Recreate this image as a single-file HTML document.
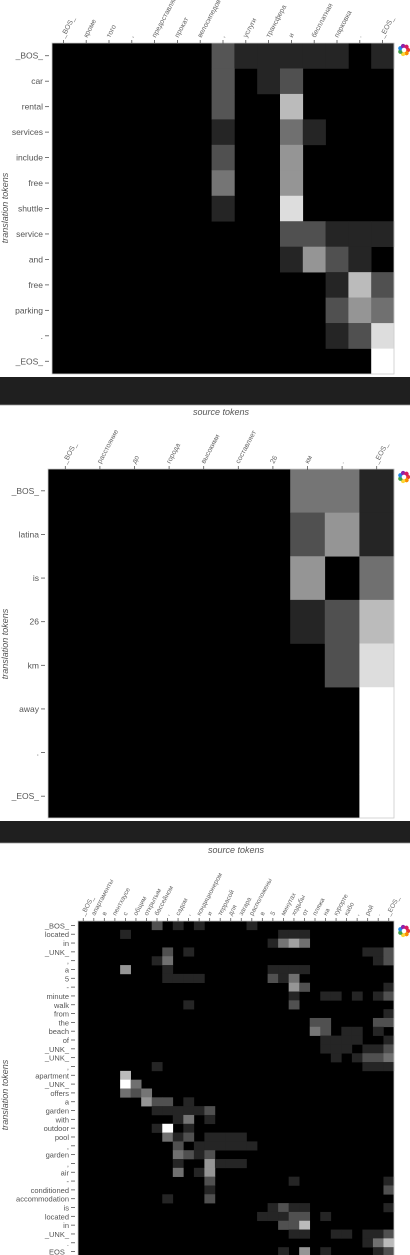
<!DOCTYPE html>
<html><head><meta charset="utf-8">
<style>
html,body{margin:0;padding:0;background:#fff;width:410px;height:1255px;overflow:hidden}
svg text{font-family:"Liberation Sans","DejaVu Sans",sans-serif}
</style></head>
<body>
<svg id="root" width="410" height="1255" xmlns="http://www.w3.org/2000/svg"></svg>
<script>
// ---------- Chart 1 data ----------
const src1 = ["_BOS_","кроме","того",",","предоставляется","прокат","велосипедов",",","услуги","трансфера","и","бесплатная","парковка",".","_EOS_"];
const tgt1 = ["_BOS_","car","rental","services","include","free","shuttle","service","and","free","parking",".","_EOS_"];
const cells1 = [
[0,7,0x55],[0,8,0x25],[0,9,0x25],[0,10,0x25],[0,11,0x25],[0,12,0x25],[0,14,0x25],
[1,7,0x55],[1,9,0x25],[1,10,0x50],
[2,7,0x55],[2,10,0xbb],
[3,7,0x25],[3,10,0x70],[3,11,0x25],
[4,7,0x50],[4,10,0x95],
[5,7,0x75],[5,10,0x95],
[6,7,0x25],[6,10,0xdd],
[7,10,0x50],[7,11,0x50],[7,12,0x25],[7,13,0x25],[7,14,0x25],
[8,10,0x25],[8,11,0x95],[8,12,0x50],[8,13,0x25],
[9,12,0x25],[9,13,0xbb],[9,14,0x50],
[10,12,0x50],[10,13,0x95],[10,14,0x70],
[11,12,0x25],[11,13,0x50],[11,14,0xdd],
[12,14,0xff]
];
// ---------- Chart 2 data ----------
const src2 = ["_BOS_","расстояние","до","города","высокими","составляет","26","км",".","_EOS_"];
const tgt2 = ["_BOS_","latina","is","26","km","away",".","_EOS_"];
const cells2 = [
[0,7,0x75],[0,8,0x75],[0,9,0x25],
[1,7,0x50],[1,8,0x95],[1,9,0x25],
[2,7,0x95],[2,9,0x70],
[3,7,0x25],[3,8,0x50],[3,9,0xbb],
[4,8,0x50],[4,9,0xdd],
[5,9,0xff],[6,9,0xff],[7,9,0xff]
];
// ---------- Chart 3 data ----------
const src3 = ["_BOS_","апартаменты","в","пентхаусе","с","общим","открытым","бассейном",",","садом",",","кондиционером","и","террасой","для","загара","расположены","в","5","минутах","ходьбы","от","пляжа","на","курорте","кабо",",","рой",".","_EOS_"];
const tgt3 = ["_BOS_","located","in","_UNK_",",","a","5","-","minute","walk","from","the","beach","of","_UNK_","_UNK_",",","apartment","_UNK_","offers","a","garden","with","outdoor","pool",",","garden",",","air","-","conditioned","accommodation","is","located","in","_UNK_",".","_EOS_"];
const cells3 = [
[0,7,0x50],[0,9,0x25],[0,11,0x25],[0,16,0x25],
[1,4,0x25],[1,19,0x25],[1,20,0x25],[1,21,0x25],
[2,18,0x25],[2,19,0x75],[2,20,0xa0],[2,21,0x70],
[3,8,0x50],[3,10,0x25],[3,27,0x25],[3,28,0x25],[3,29,0x50],
[4,7,0x25],[4,8,0x70],[4,28,0x25],[4,29,0x50],
[5,4,0x95],[5,8,0x25],[5,18,0x25],[5,19,0x25],[5,20,0x25],[5,21,0x25],
[6,8,0x25],[6,9,0x25],[6,10,0x25],[6,11,0x25],[6,18,0x50],[6,19,0x25],[6,20,0x70],
[7,20,0x95],[7,21,0x50],[7,29,0x25],
[8,20,0x25],[8,23,0x25],[8,24,0x25],[8,26,0x25],[8,28,0x25],[8,29,0x50],
[9,10,0x25],[9,20,0x50],
[10,29,0x25],
[11,22,0x50],[11,23,0x50],[11,28,0x50],[11,29,0x50],
[12,22,0x75],[12,23,0x50],[12,25,0x25],[12,26,0x25],[12,28,0x25],
[13,23,0x25],[13,24,0x25],[13,25,0x25],[13,26,0x25],[13,29,0x25],
[14,23,0x25],[14,24,0x25],[14,25,0x25],[14,27,0x25],[14,28,0x25],[14,29,0x50],
[15,24,0x25],[15,26,0x25],[15,27,0x50],[15,28,0x50],[15,29,0x70],
[16,7,0x25],[16,27,0x25],[16,28,0x25],[16,29,0x25],
[17,4,0xbb],
[18,4,0xff],[18,5,0x70],
[19,4,0x70],[19,5,0x50],[19,6,0x75],
[20,6,0x95],[20,7,0x50],[20,8,0x50],[20,10,0x25],
[21,7,0x25],[21,8,0x25],[21,9,0x25],[21,10,0x25],[21,11,0x25],[21,12,0x50],
[22,9,0x25],[22,10,0x75],[22,12,0x25],
[23,7,0x25],[23,8,0xff],[23,10,0x25],
[24,8,0x70],[24,9,0x25],[24,10,0x50],[24,12,0x25],[24,13,0x25],[24,14,0x25],[24,15,0x25],
[25,9,0x50],[25,11,0x25],[25,12,0x25],[25,13,0x25],[25,14,0x25],[25,15,0x25],[25,16,0x25],
[26,9,0x70],[26,10,0x50],[26,11,0x25],[26,12,0x50],
[27,9,0x25],[27,12,0x95],[27,13,0x25],[27,14,0x25],[27,15,0x25],
[28,9,0x70],[28,11,0x25],[28,12,0x95],
[29,12,0x50],[29,20,0x25],[29,29,0x25],
[30,12,0x25],[30,29,0x50],
[31,8,0x25],[31,12,0x50],
[32,18,0x25],[32,19,0x50],[32,20,0x25],[32,21,0x25],[32,29,0x25],
[33,17,0x25],[33,18,0x25],[33,19,0x25],[33,20,0x50],[33,21,0x50],[33,23,0x25],
[34,19,0x50],[34,20,0x50],[34,21,0xbb],
[35,20,0x25],[35,21,0x25],[35,24,0x25],[35,25,0x25],[35,27,0x25],[35,28,0x25],[35,29,0x50],
[36,27,0x25],[36,28,0x70],[36,29,0xbb],
[37,19,0x25],[37,21,0x95],[37,23,0x25],[37,28,0x25],[37,29,0x50]
];

const NS="http://www.w3.org/2000/svg";
const root=document.getElementById('root');
function mk(tag,attrs,parent){const e=document.createElementNS(NS,tag);for(const k in attrs)e.setAttribute(k,attrs[k]);(parent||root).appendChild(e);return e;}

function chart(id,src,tgt,cells,box,opt){
  const g=mk('g',{});
  
  
  const cw=(box.x1-box.x0)/src.length, rh=(box.y1-box.y0)/tgt.length;
  const xs=c=>box.x0+c*cw, ys=r=>box.y0+r*rh;
  const bg=mk('rect',{x:box.x0,y:box.y0,width:box.x1-box.x0,height:box.y1-box.y0,fill:'#000'},g);
  
  
  cells.forEach(([r,c,v])=>{
    const h=v.toString(16).padStart(2,'0');
    const rc=mk('rect',{x:xs(c),y:ys(r),width:cw+0.3,height:rh+0.3,fill:'#'+h+h+h},g);
    
    
  });
  const fr=mk('rect',{x:box.x0,y:box.y0,width:box.x1-box.x0,height:box.y1-box.y0,fill:'none',stroke:'#ccc','stroke-width':0.8},g);
  
  
  src.forEach((s,i)=>{
    const x=xs(i)+cw/2;
    mk('line',{x1:x,y1:box.y0-3,x2:x,y2:box.y0+1,stroke:'#555','stroke-width':0.8},g);
    const t=mk('text',{x:x+1,y:box.y0-5,'font-size':opt.xf,fill:'#666',transform:`rotate(-62 ${x+1} ${box.y0-5})`},g);
    t.textContent=s;
    
    
  });
  tgt.forEach((s,i)=>{
    const y=ys(i)+rh/2;
    mk('line',{x1:box.x0-7,y1:y,x2:box.x0-3,y2:y,stroke:'#555','stroke-width':0.8},g);
    const t=mk('text',{x:box.x0-9,y:y+3,'font-size':opt.yf,fill:'#555','text-anchor':'end'},g);
    t.textContent=s;
    
    
  });
  const yt=mk('text',{x:opt.ytx,y:opt.yty,'font-size':9,fill:'#555','font-style':'italic','text-anchor':'middle',transform:`rotate(-90 ${opt.ytx} ${opt.yty})`},g);
  yt.textContent='translation tokens';
  
  
  if(opt.band){
    const b=mk('rect',{x:0,y:opt.band[0],width:410,height:opt.band[1]-opt.band[0],fill:'#1f1f1f'},g);
    
    
    mk('line',{x1:0,y1:opt.band[1],x2:410,y2:opt.band[1],stroke:'#999','stroke-width':0.8},g);
    const xt=mk('text',{x:opt.xtx,y:opt.band[1]+10,'font-size':9,fill:'#555','font-style':'italic','text-anchor':'middle'},g);
    xt.textContent='source tokens';
    
    
  }
  // logo
  const lg=mk('g',{},g);
  
  
  const cols=['#e53935','#fb8c00','#fdd835','#43a047','#1e88e5','#8e24aa','#d81b60'];
  cols.forEach((c,k)=>{const a=k/cols.length*2*Math.PI;mk('circle',{cx:opt.logo[0]+4*Math.cos(a),cy:opt.logo[1]+4*Math.sin(a),r:2.2,fill:c},lg);});
  mk('circle',{cx:opt.logo[0],cy:opt.logo[1],r:2.3,fill:'#fff'},lg);
}

chart('attention-chart-1',src1,tgt1,cells1,{x0:52,x1:394,y0:43,y1:374},{xf:7,yf:8.5,ytx:8,yty:208,band:[377,405],xtx:221,logo:[404,50]});
chart('attention-chart-2',src2,tgt2,cells2,{x0:48,x1:394,y0:469,y1:818},{xf:7,yf:8.5,ytx:8,yty:644,band:[821,843],xtx:236,logo:[404,477]});
chart('attention-chart-3',src3,tgt3,cells3,{x0:78,x1:394,y0:921,y1:1256},{xf:6.5,yf:7.5,ytx:8,yty:1095,band:null,logo:[404,931]});
</script>
</body></html>
